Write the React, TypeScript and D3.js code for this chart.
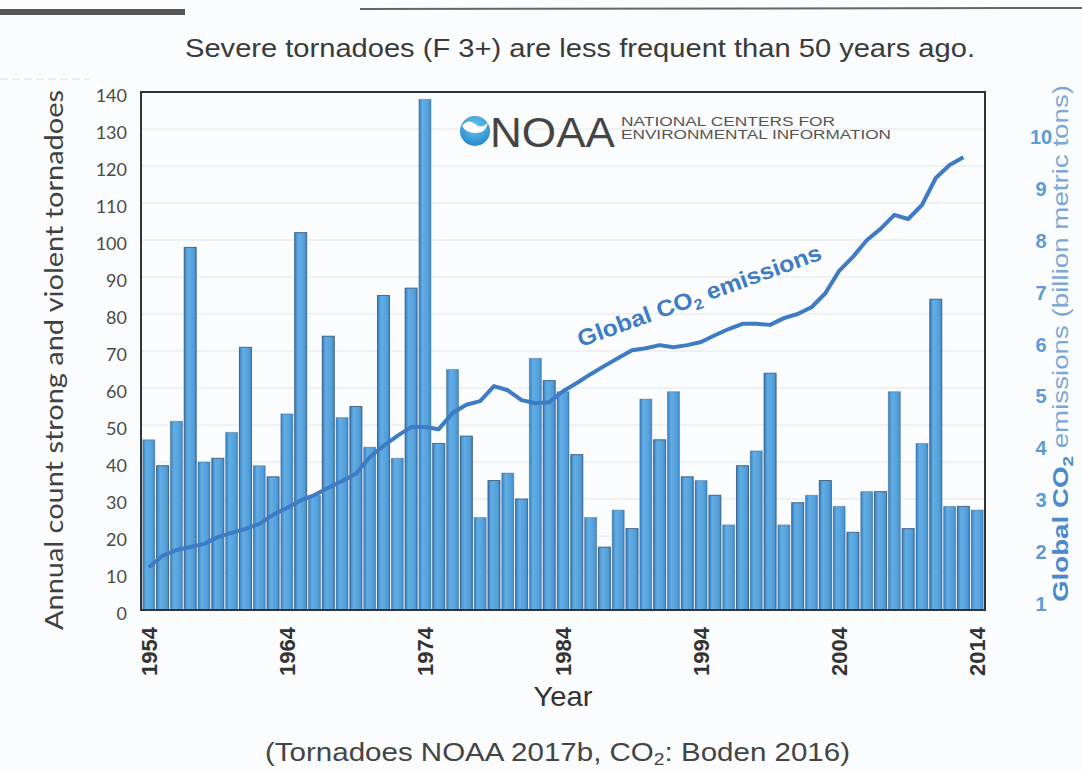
import * as d3 from "d3";

// tornado counts (F3+) by year, 1954-2014
const years = d3.range(1954, 2015);
const tornadoes = [
  46, 39, 51, 98, 40, 41, 48, 71, 39, 36, 53, 102, 31, 74, 52, 55, 44, 85, 41, 87,
  138, 45, 65, 47, 25, 35, 37, 30, 68, 62, 59, 42, 25, 17, 27, 22, 57, 46, 59, 36,
  35, 31, 23, 39, 43, 64, 23, 29, 31, 35, 28, 21, 32, 32, 59, 22, 45, 84, 28, 28, 27,
];

// global CO2 emissions (billion metric tons), 1954-2013
const co2Years = d3.range(1954, 2014);
const co2 = [
  1.69, 1.91, 2.02, 2.08, 2.14, 2.27, 2.35, 2.43, 2.52, 2.7, 2.83, 2.98, 3.08, 3.22,
  3.35, 3.49, 3.81, 4.03, 4.22, 4.39, 4.39, 4.35, 4.66, 4.82, 4.89, 5.18, 5.1, 4.91,
  4.85, 4.87, 5.08, 5.24, 5.41, 5.57, 5.72, 5.87, 5.91, 5.97, 5.93, 5.97, 6.03, 6.16,
  6.28, 6.38, 6.38, 6.36, 6.49, 6.57, 6.7, 6.97, 7.4, 7.67, 7.99, 8.21, 8.48, 8.4,
  8.67, 9.19, 9.44, 9.59,
];

const leftTicks = d3.range(0, 141, 10);
const rightTicks = d3.range(1, 11);
const yearTicks = [1954, 1964, 1974, 1984, 1994, 2004, 2014];

const W = 1082;
const H = 772;
const left = 141;
const right = 985;
const top = 92;
const bottom = 610;

export default function App() {
  const x = d3.scaleBand<number>().domain(years).range([left, right]).padding(0.13);
  const xc = (yr: number) => (x(yr) ?? 0) + x.bandwidth() / 2;
  const y = d3.scaleLinear([0, 140], [bottom, top]);
  const y2 = d3.scaleLinear([1, 10], [603, 136]);

  const line = d3
    .line<number>()
    .x((_, i) => xc(co2Years[i]))
    .y((d) => y2(d));

  const arial = "'Liberation Sans', Arial, sans-serif";
  const calib = "Lato, 'Open Sans', sans-serif";

  const labelX = xc(1985) + 4;
  const labelY = y2(5.93);

  return (
    <svg
      width={W}
      height={H}
      style={{ position: "absolute", left: 0, top: 0, background: "#fbfcfd" }}
    >
      <defs>
        <linearGradient id="bar" x1="0" x2="1" y1="0" y2="0">
          <stop offset="0" stopColor="#3480c4" />
          <stop offset="0.3" stopColor="#62ade3" />
          <stop offset="0.75" stopColor="#54a0db" />
          <stop offset="1" stopColor="#3f8acb" />
        </linearGradient>
        <radialGradient id="logo" cx="0.5" cy="0.35" r="0.7">
          <stop offset="0" stopColor="#6ec6f0" />
          <stop offset="1" stopColor="#1f86c8" />
        </radialGradient>
      </defs>

      {/* page decorations */}
      <rect x={0} y={9} width={185} height={6} fill="#555" />
      <line x1={360} x2={W} y1={9} y2={8} stroke="#666" strokeWidth={2} />
      <line x1={0} x2={90} y1={79} y2={79} stroke="#ddd" strokeWidth={1} strokeDasharray="8 4" />

      <text
        x={185}
        y={57}
        fontFamily={arial}
        fontSize={26}
        fill="#3a3a3a"
        textLength={790}
        lengthAdjust="spacingAndGlyphs"
      >
        Severe tornadoes (F 3+) are less frequent than 50 years ago.
      </text>

      {/* gridlines */}
      <g stroke="#e2e6ea" strokeWidth={1}>
        {leftTicks.slice(1, -1).map((t) => (
          <line key={t} x1={left} x2={right} y1={y(t)} y2={y(t)} />
        ))}
      </g>

      {/* bars */}
      <g>
        {years.map((yr, i) => (
          <rect
            key={yr}
            x={x(yr)}
            y={y(tornadoes[i])}
            width={x.bandwidth()}
            height={bottom - y(tornadoes[i])}
            fill="url(#bar)"
            stroke="#2a4a6a"
            strokeOpacity={i % 2 ? 0.75 : 0.35}
            strokeWidth={1}
          />
        ))}
      </g>

      {/* NOAA logo */}
      <g>
        <circle cx={475} cy={131} r={15} fill="url(#logo)" />
        <path
          d="M462,126 Q468,118 475,124 Q482,130 488,122 Q486,134 475,133 Q466,133 462,126 Z"
          fill="#fff"
        />
        <text
          x={490}
          y={147}
          fontFamily={arial}
          fontSize={42}
          fill="#444"
          textLength={125}
          lengthAdjust="spacingAndGlyphs"
        >
          NOAA
        </text>
        <text
          x={621}
          y={126}
          fontFamily={arial}
          fontSize={12}
          fill="#555"
          textLength={214}
          lengthAdjust="spacingAndGlyphs"
        >
          NATIONAL CENTERS FOR
        </text>
        <text
          x={621}
          y={139}
          fontFamily={arial}
          fontSize={12}
          fill="#555"
          textLength={270}
          lengthAdjust="spacingAndGlyphs"
        >
          ENVIRONMENTAL INFORMATION
        </text>
      </g>

      {/* CO2 line */}
      <path
        d={line(co2) ?? undefined}
        fill="none"
        stroke="#3d7bc4"
        strokeWidth={4}
        strokeLinejoin="round"
      />
      <text
        transform={`translate(${labelX},${labelY}) rotate(-20)`}
        fontFamily={arial}
        fontWeight="bold"
        fontSize={23}
        fill="#3f7cc4"
        textLength={258}
        lengthAdjust="spacingAndGlyphs"
      >
        Global CO
        <tspan fontSize={15} dy={5}>2</tspan>
        <tspan dy={-5}> emissions</tspan>
      </text>

      {/* frame */}
      <rect
        x={left}
        y={top}
        width={right - left}
        height={bottom - top}
        fill="none"
        stroke="#333"
        strokeWidth={2}
      />

      {/* left axis */}
      <g fontFamily={calib} fontSize={18} fill="#4a4a4a" textAnchor="end">
        {leftTicks.map((t) => (
          <text key={t} x={127} y={y(t) + 10}>
            {t}
          </text>
        ))}
      </g>
      <text
        transform={`translate(63,${(90 + 630) / 2}) rotate(-90)`}
        textAnchor="middle"
        fontFamily={calib}
        fontSize={25}
        fill="#404040"
        textLength={540}
        lengthAdjust="spacingAndGlyphs"
      >
        Annual count strong and violent tornadoes
      </text>

      {/* right axis */}
      <g fontFamily={arial} fontWeight="bold" fontSize={20} fill="#5b9bd5" textAnchor="middle">
        {rightTicks.map((t) => (
          <text key={t} x={1041} y={y2(t) + 8}>
            {t}
          </text>
        ))}
      </g>
      <text
        transform={`translate(1068,${(85 + 602) / 2}) rotate(-90)`}
        textAnchor="middle"
        fontFamily={arial}
        fontSize={22}
        fill="#5b9bd5"
        textLength={517}
        lengthAdjust="spacingAndGlyphs"
      >
        <tspan fontWeight="bold" fill="#4a8acb">Global CO</tspan>
        <tspan fontWeight="bold" fill="#4a8acb" fontSize={15} dy={5}>2</tspan>
        <tspan dy={-5} fill="#7ba7d8"> emissions (billion metric tons)</tspan>
      </text>

      {/* x axis */}
      <g fontFamily={arial} fontWeight="bold" fontSize={22} fill="#333">
        {yearTicks.map((t) => (
          <text
            key={t}
            transform={`translate(${xc(t) + 8},${bottom + 17}) rotate(-90)`}
            textAnchor="end"
          >
            {t}
          </text>
        ))}
      </g>
      <text
        x={563}
        y={706}
        textAnchor="middle"
        fontFamily={arial}
        fontSize={28}
        fill="#333"
        textLength={59}
        lengthAdjust="spacingAndGlyphs"
      >
        Year
      </text>

      <text
        x={265}
        y={761}
        fontFamily={arial}
        fontSize={26}
        fill="#444"
        textLength={585}
        lengthAdjust="spacingAndGlyphs"
      >
        (Tornadoes NOAA 2017b, CO
        <tspan fontSize={17} dy={4}>2</tspan>
        <tspan dy={-4}>: Boden 2016)</tspan>
      </text>
    </svg>
  );
}
